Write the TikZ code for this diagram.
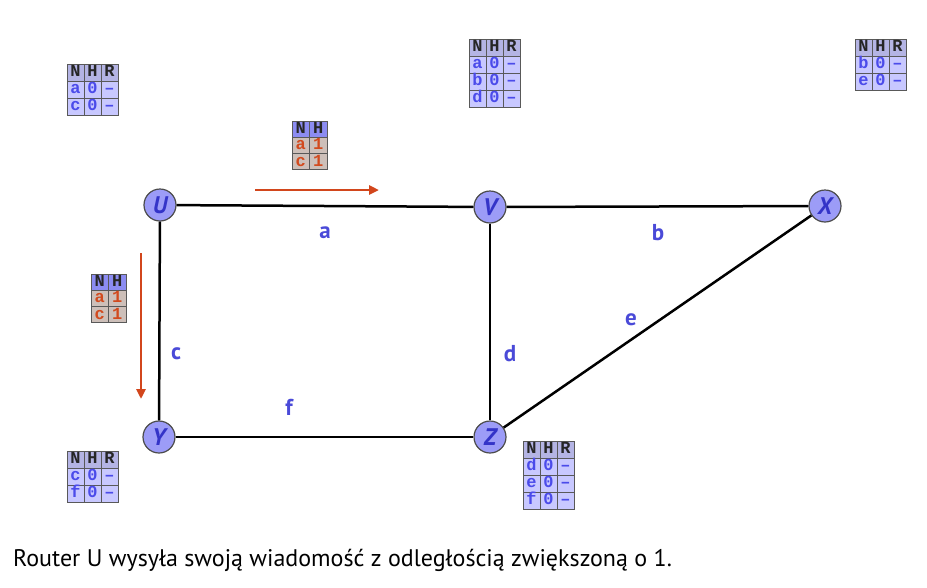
\documentclass[tikz,border=0pt]{standalone}
\usepackage{fontspec}
\setsansfont{PT Sans}
\newfontfamily\cellfont{Liberation Mono}
\usetikzlibrary{matrix}
\usetikzlibrary{arrows.meta, positioning}

\definecolor{routerfill}{HTML}{9C9CF7}
\definecolor{routertext}{HTML}{3434C8}
\definecolor{lblblue}{HTML}{4A4AD8}
\definecolor{cellfill}{HTML}{C8C8FF}
\definecolor{celltext}{HTML}{4B4BEA}
\definecolor{headfill}{HTML}{B4B4E4}
\definecolor{msgfill}{HTML}{8C8CF2}
\definecolor{msgbody}{HTML}{CDBFB9}
\definecolor{msgtext}{HTML}{D24A1E}
\definecolor{msgred}{HTML}{D2461C}

\begin{document}
\begin{tikzpicture}[
    x=1pt, y=-1pt,
    router/.style={circle, draw=black!70, line width=1.2pt, fill=routerfill, minimum size=32pt, inner sep=0pt,
        text=routertext, font=\sffamily\bfseries\itshape\fontsize{24}{24}\selectfont}, % routery
    link/.style={black, line width=2.5pt}, % lacza
    lbl/.style={text=lblblue, font=\sffamily\bfseries\fontsize{23}{23}\selectfont}, % nazwy laczy
    msg/.style={msgred, line width=2.8pt, -{Triangle[length=10pt, width=9pt]}}, % wiadomosc
    cell/.style={draw=black!65, line width=0.8pt, fill=cellfill, text=celltext, minimum width=17pt, minimum height=17pt,
        text height=11pt, text depth=2pt, inner sep=0pt, font=\cellfont\bfseries\fontsize{17}{17}\selectfont},
    head/.style={fill=headfill, text=black!85},
    rtab/.style={matrix of nodes, nodes={cell}, column sep=-0.8pt, row sep=-0.8pt, anchor=north west,
        row 1/.style={nodes={head}}}, % tablica routingu
    mtab/.style={rtab, nodes={fill=msgbody, text=msgtext, minimum height=16.3pt, minimum width=17.5pt},
        row 1/.style={nodes={fill=msgfill, text=black!85}}} % tablica w wiadomosci
]
    \useasboundingbox (0,0) rectangle (927,587);

    % 1. routery
    \node[router] (U) at (160,205) {U};
    \node[router] (V) at (490,207) {V};
    \node[router] (X) at (825,206) {X};
    \node[router] (Y) at (159,437) {Y};
    \node[router] (Z) at (490,437) {Z};

    % 2. lacza
    \draw[link] (U) -- (V);
    \draw[link] (V) -- (X);
    \draw[link] (U) -- (Y);
    \draw[link] (V) -- (Z);
    \draw[link] (Y) -- (Z);
    \draw[link] (Z) -- (X);

    \node[lbl] (la) at (325,233) {a};
    \node[lbl] (lb) at (658,233) {b};
    \node[lbl] (lc) at (176,354) {c};
    \node[lbl] (ld) at (510,354) {d};
    \node[lbl] (le) at (631,320) {e};
    \node[lbl] (lf) at (289,407) {f};

    % 3. tablice routingu
    \matrix[rtab] (tabU) at (63,60) {N & H & R \\ a & 0 & – \\ c & 0 & – \\};
    \matrix[rtab] (tabV) at (465,35) {N & H & R \\ a & 0 & – \\ b & 0 & – \\ d & 0 & – \\};
    \matrix[rtab] (tabX) at (851,35) {N & H & R \\ b & 0 & – \\ e & 0 & – \\};
    \matrix[rtab] (tabY) at (63,447) {N & H & R \\ c & 0 & – \\ f & 0 & – \\};
    \matrix[rtab] (tabZ) at (519,437) {N & H & R \\ d & 0 & – \\ e & 0 & – \\ f & 0 & – \\};

    % 4. wiadomosc od U
    \coordinate (mV0) at (255,190);
    \coordinate (mV1) at (379,190);
    \draw[msg] (mV0) -- (mV1);
    \matrix[mtab] (msgV) at (288,117) {N & H \\ a & 1 \\ c & 1 \\};

    \coordinate (mY0) at (141,253);
    \coordinate (mY1) at (141,399);
    \draw[msg] (mY0) -- (mY1);
    \matrix[mtab] (msgY) at (87,270) {N & H \\ a & 1 \\ c & 1 \\};

    % 5. podpis
    \node[anchor=base west, inner sep=0pt, font=\sffamily\fontsize{24}{24}\selectfont] (cap) at (13,566)
        {Router U wysyła swoją wiadomość z odległością zwiększoną o 1.};
\end{tikzpicture}
\end{document}
